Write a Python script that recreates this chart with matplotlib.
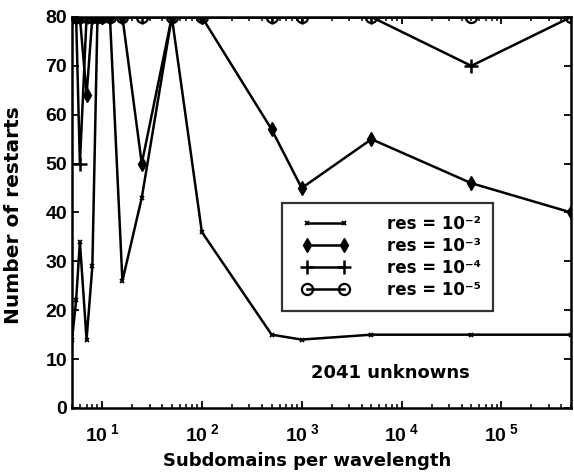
import matplotlib
matplotlib.use("Agg")
import matplotlib.pyplot as plt
from matplotlib.ticker import FixedLocator, FixedFormatter, LogLocator, NullFormatter
from matplotlib.legend_handler import HandlerLine2D

plt.rcParams['font.family'] = ['Liberation Sans', 'DejaVu Sans']
plt.rcParams['font.weight'] = 'bold'
plt.rcParams['mathtext.fontset'] = 'custom'
plt.rcParams['mathtext.rm'] = 'Liberation Sans:bold'
plt.rcParams['mathtext.bf'] = 'Liberation Sans:bold'
plt.rcParams['mathtext.it'] = 'Liberation Sans:bold'

# subdomains per wavelength
subdomains = [5, 5.5, 6, 7, 8, 9, 10, 12, 16, 25, 50, 100, 500, 1000, 5000, 50000, 500000]

# number of restarts for each residual
res_2 = [14, 22, 34, 14, 29, 80, 80, 80, 26, 43, 80, 36, 15, 14, 15, 15, 15]
res_3 = [80, 80, 80, 64, 80, 80, 80, 80, 80, 50, 80, 80, 57, 45, 55, 46, 40]
res_4 = [80, 80, 50, 80, 80, 80, 80, 80, 80, 80, 80, 80, 80, 80, 80, 70, 80]
res_5 = [80, 80, 80, 80, 80, 80, 80, 80, 80, 80, 80, 80, 80, 80, 80, 80, 80]

series_labels = ['res = 10\u207b\u00b2', 'res = 10\u207b\u00b3', 'res = 10\u207b\u2074', 'res = 10\u207b\u2075']
yticks = [0, 10, 20, 30, 40, 50, 60, 70, 80]
xticks = [10, 100, 1000, 10000, 100000]
xtick_labels = [r'$10^{\;1}$', r'$10^{\;2}$', r'$10^{\;3}$', r'$10^{\;4}$', r'$10^{\;5}$']

wide = ['DejaVu Sans']

fig = plt.figure(figsize=(5.74, 4.72), dpi=100)
ax = fig.add_axes([0.1254, 0.1356, 0.8696, 0.8284])

lw = 1.8
ax.plot(subdomains, res_2, color='black', lw=lw, marker='x', ms=3.5, mew=1.3, label=series_labels[0])
ax.plot(subdomains, res_3, color='black', lw=lw, marker='d', ms=7, label=series_labels[1])
ax.plot(subdomains, res_4, color='black', lw=lw, marker='+', ms=10, mew=1.8, label=series_labels[2])
ax.plot(subdomains, res_5, color='black', lw=lw, marker='o', ms=8, mfc='none', mew=1.6, label=series_labels[3])

ax.set_xscale('log')
ax.set_xlim(5, 500000)
ax.set_ylim(0, 80)
ax.xaxis.set_major_locator(FixedLocator(xticks))
ax.xaxis.set_major_formatter(FixedFormatter(xtick_labels))
ax.xaxis.set_minor_locator(LogLocator(base=10, subs=range(2, 10), numticks=20))
ax.xaxis.set_minor_formatter(NullFormatter())
ax.set_yticks(yticks)

ax.tick_params(which='both', direction='in', top=True, right=True)
ax.tick_params(which='major', length=5, width=1.3)
ax.tick_params(which='minor', length=3, width=1.1)
ax.tick_params(axis='x', labelsize=14, pad=11)
ax.tick_params(axis='y', labelsize=14)
for s in ax.spines.values():
    s.set_linewidth(1.8)

ax.set_xlabel('Subdomains per wavelength', fontsize=13, fontweight='bold', family=wide)
ax.xaxis.set_label_coords(0.471, -0.113)
ax.set_ylabel('Number of restarts', fontsize=14.5, fontweight='bold', family=wide)
ax.yaxis.set_label_coords(-0.098, 0.494)

leg = ax.legend(loc='upper left', bbox_to_anchor=(0.421, 0.524), borderaxespad=0,
                numpoints=2, handler_map={plt.Line2D: HandlerLine2D(marker_pad=0.8)},
                prop={'family': wide, 'weight': 'bold', 'size': 12},
                handlelength=3.8, labelspacing=0.25, frameon=True,
                fancybox=False, edgecolor='black', borderpad=0.7, handletextpad=1.8)
leg.get_frame().set_linewidth(1.6)

ax.text(0.637, 0.09, '2041 unknowns', transform=ax.transAxes, ha='center', va='center',
        fontsize=13, fontweight='bold', family=wide)

fig.savefig('out.png', dpi=100)
